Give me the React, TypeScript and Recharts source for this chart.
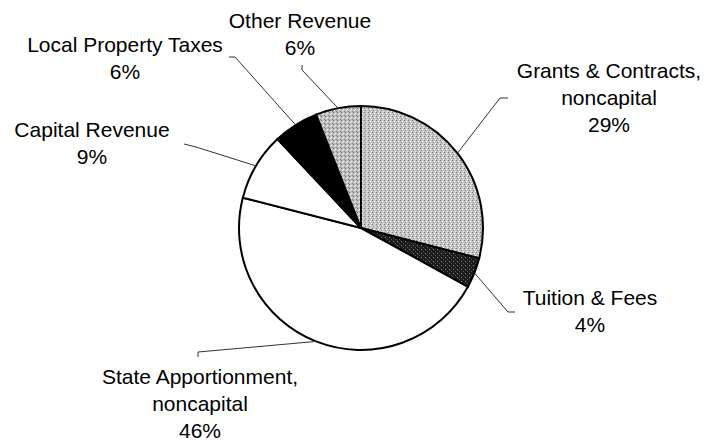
import { PieChart, Pie, Cell } from 'recharts';

const RADIAN = Math.PI / 180;

// slices clockwise from 12 o'clock
const names = [
  ['Grants & Contracts,', 'noncapital'],
  ['Tuition & Fees'],
  ['State Apportionment,', 'noncapital'],
  ['Capital Revenue'],
  ['Local Property Taxes'],
  ['Other Revenue'],
];
const shares = [29, 4, 46, 9, 6, 6];
const fills = ['url(#grants)', 'url(#tuition)', '#ffffff', '#ffffff', '#000000', 'url(#other)'];

// where each label sits and how its leader line bends
const labelPos = [
  { x: 609, y: 78, ex: 500, ey: 98, sx: 508, sy: 98 },
  { x: 590, y: 305, ex: 508, ey: 312, sx: 515, sy: 312 },
  { x: 200, y: 384, ex: 198, ey: 352, sx: 198, sy: 357 },
  { x: 92, y: 137, ex: 196, ey: 147, sx: 184, sy: 144 },
  { x: 125, y: 52, ex: 235, ey: 57, sx: 229, sy: 57 },
  { x: 300, y: 28, ex: 302, ey: 70, sx: 302, sy: 65 },
];

const data = names.map((n, i) => ({ name: n.join(' '), value: shares[i] }));

const LINE_H = 27;

function renderLabel(props: any) {
  const { cx, cy, midAngle, outerRadius, index } = props;
  const p = labelPos[index];
  const x0 = cx + outerRadius * Math.cos(-midAngle * RADIAN);
  const y0 = cy + outerRadius * Math.sin(-midAngle * RADIAN);
  const lines = [...names[index], `${shares[index]}%`];
  return (
    <g key={`lbl-${index}`}>
      <path
        d={`M${x0},${y0} L${p.ex},${p.ey} L${p.sx},${p.sy}`}
        stroke="#333"
        strokeWidth={1}
        fill="none"
      />
      <text
        x={p.x}
        y={p.y}
        textAnchor="middle"
        fontFamily="'Liberation Sans', Arial, sans-serif"
        fontSize={21}
        fill="#000"
      >
        {lines.map((t, j) => (
          <tspan key={j} x={p.x} dy={j === 0 ? 0 : LINE_H}>
            {t}
          </tspan>
        ))}
      </text>
    </g>
  );
}

export default function App() {
  return (
    <div style={{ position: 'absolute', left: 0, top: 0, background: '#fff' }}>
      <PieChart width={709} height={444}>
        <defs>
          <pattern id="grants" width="4" height="4" patternUnits="userSpaceOnUse">
            <rect width="4" height="4" fill="#c4c4c4" />
            <rect x="0" y="0" width="1" height="1" fill="#7a7a7a" />
            <rect x="2" y="1" width="1" height="1" fill="#ffffff" />
            <rect x="1" y="2" width="1" height="1" fill="#8c8c8c" />
            <rect x="3" y="3" width="1" height="1" fill="#eeeeee" />
          </pattern>
          <pattern id="other" width="4" height="4" patternUnits="userSpaceOnUse">
            <rect width="4" height="4" fill="#bcbcbc" />
            <rect x="1" y="0" width="1" height="1" fill="#707070" />
            <rect x="3" y="1" width="1" height="1" fill="#ffffff" />
            <rect x="0" y="3" width="1" height="1" fill="#808080" />
            <rect x="2" y="2" width="1" height="1" fill="#e8e8e8" />
          </pattern>
          <pattern id="tuition" width="4" height="4" patternUnits="userSpaceOnUse">
            <rect width="4" height="4" fill="#1c1c1c" />
            <rect x="1" y="1" width="1" height="1" fill="#8a8a8a" />
            <rect x="3" y="3" width="1" height="1" fill="#5a5a5a" />
          </pattern>
        </defs>
        <Pie
          data={data}
          dataKey="value"
          nameKey="name"
          cx={356}
          cy={223}
          outerRadius={122}
          startAngle={90}
          endAngle={-270}
          stroke="#000"
          strokeWidth={2}
          label={renderLabel}
          labelLine={false}
          isAnimationActive={false}
        >
          {data.map((d, i) => (
            <Cell key={d.name} fill={fills[i]} />
          ))}
        </Pie>
      </PieChart>
    </div>
  );
}
